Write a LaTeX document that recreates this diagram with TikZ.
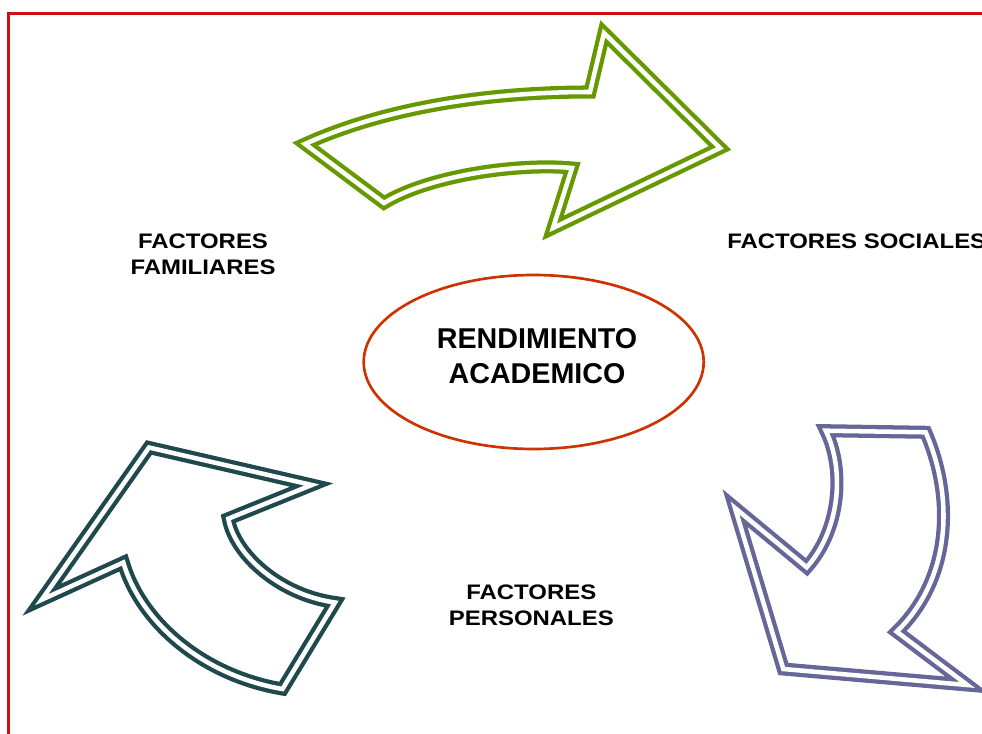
\documentclass[tikz,border=0pt]{standalone}
\usepackage{fontspec}
\setmainfont{Liberation Sans}
\newfontfamily\factorfont[FakeStretch=1.14]{Liberation Sans}
\usetikzlibrary{shapes.geometric}

\definecolor{framered}{RGB}{204,16,16}
\definecolor{ovalred}{RGB}{204,51,0}
\definecolor{arrowgreen}{RGB}{102,153,0}
\definecolor{arrowteal}{RGB}{31,73,77}
\definecolor{arrowpurple}{RGB}{102,102,153}

\begin{document}
\begin{tikzpicture}[x=0.75pt,y=-0.75pt]
            \tikzstyle{factor} = [inner sep=0pt,align=center,font={\factorfont\bfseries\fontsize{15.75}{19.3}\selectfont}]
            \tikzstyle{bigarrow} = [line width=3.2pt,double=white,double distance=3.4pt,line join=miter]
            \tikzstyle{frame} = [draw=framered,line width=2pt]

            \useasboundingbox (0,0) rectangle (982,734);
            \draw[frame] (8.5,745) -- (8.5,13.7) -- (995,13.7);

            % central oval
            \node[draw=ovalred,line width=2pt,ellipse,minimum width=255pt,minimum height=130.5pt] (oval) at (533.7,362) {};
            \node[inner sep=0pt,align=center,font={\bfseries\fontsize{21.5}{26.8}\selectfont}] (rend) at (537,356.2) {RENDIMIENTO\\ACADEMICO};

            % factors
            \node[factor] (fam) at (203,254) {FACTORES\\FAMILIARES};
            \node[factor,anchor=west] (soc) at (727,241.2) {FACTORES SOCIALES};
            \node[factor] (pers) at (531.3,605.5) {FACTORES\\PERSONALES};

            % arrows
            \draw[bigarrow,draw=arrowgreen] (305,144) .. controls (380,110) and (480,92) .. (590,92)
                -- (604,33) -- (720,148) -- (553,228) -- (572,168)
                .. controls (520,163) and (430,175) .. (384,203) -- cycle;
            \draw[bigarrow,draw=arrowpurple] (825.7,430.7) -- (925.7,432.3)
                .. controls (955,500) and (950,580) .. (896.7,631.7)
                -- (967.3,685) -- (783.3,669) -- (735,508) -- (806.7,567.3)
                .. controls (840,530) and (845,470) .. (825.7,430.7) -- cycle;
            \draw[bigarrow,draw=arrowteal] (41.7,599.7) -- (149,447.5) -- (311.7,485) -- (228.3,518.7)
                .. controls (235,555) and (280,595) .. (335,602.5)
                -- (282.5,689) .. controls (200,675) and (140,620) .. (123.3,562.5) -- cycle;
\end{tikzpicture}
\end{document}
